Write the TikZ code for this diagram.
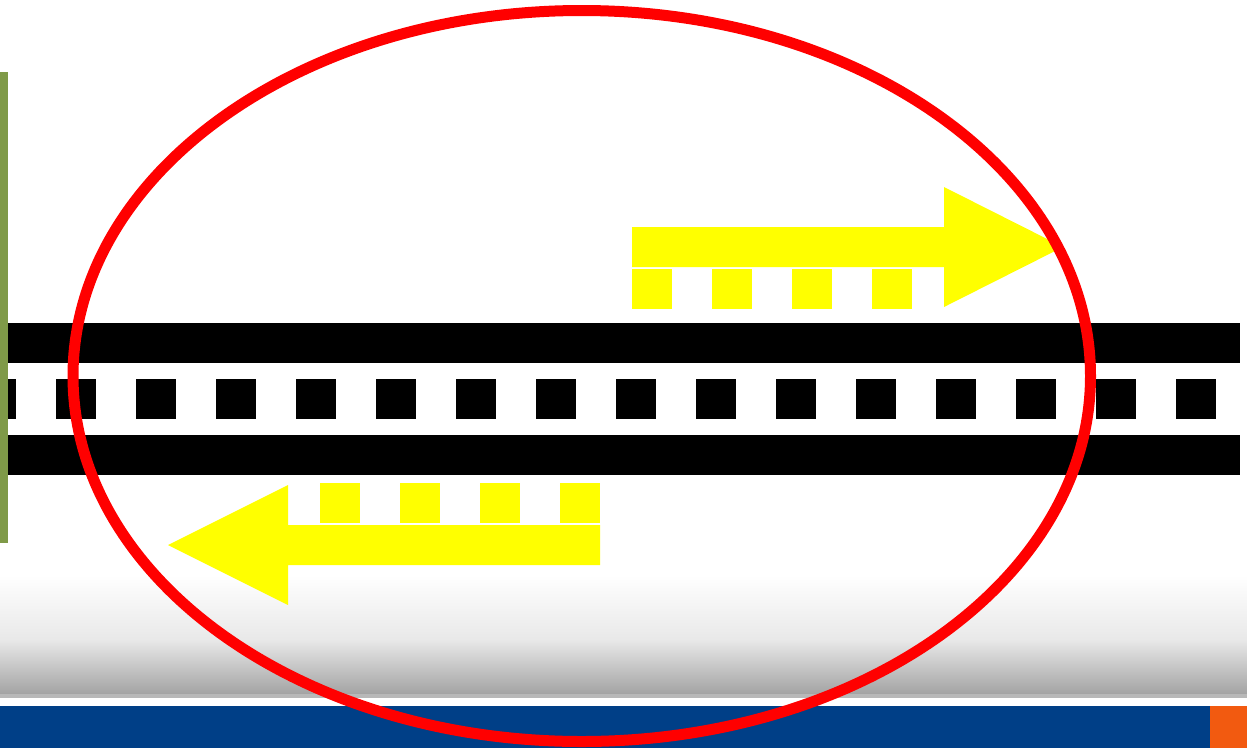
\documentclass[tikz,border=0pt]{standalone}
\definecolor{olivebar}{HTML}{7F9A48}
\definecolor{ribbonblue}{HTML}{003F87}
\definecolor{ribbonorange}{HTML}{F25A10}
\definecolor{arrowyellow}{HTML}{FFFF00}
\definecolor{ringred}{HTML}{FF0000}
\begin{document}
\begin{tikzpicture}[x=1pt,y=-1pt,
  blackbar/.style={fill=black},
  yel/.style={fill=arrowyellow},
  ring/.style={draw=ringred,line width=11pt}]
\useasboundingbox (0,0) rectangle (1247,748);
\fill[white] (0,0) rectangle (1247,748);
% bottom ribbon
\shade[top color=white,bottom color=black!9] (0,575) rectangle (1247,641);
\shade[top color=black!9,bottom color=black!37] (0,640) rectangle (1247,696);
\fill[black!28] (0,694) rectangle (1247,698);
\fill[white] (0,698) rectangle (1247,705);
\fill[ribbonblue] (0,706) rectangle (1210,748);
\fill[ribbonorange] (1210,706) rectangle (1247,748);
% green side bar
\fill[olivebar] (0,72) rectangle (8,543);
% black track
\fill[blackbar] (8,323) rectangle (1240,363);
\fill[blackbar] (8,435) rectangle (1240,475);
\fill[blackbar] (8,379) rectangle (16,419);
\foreach \i in {0,...,14}{
  \fill[blackbar] ({56+80*\i},379) rectangle ({96+80*\i},419);
}
% right yellow arrow
\fill[yel] (632,227) -- (944,227) -- (944,187) -- (1063,247) -- (944,307) -- (944,267) -- (632,267) -- cycle;
\foreach \i in {0,...,3}{
  \fill[yel] ({632+80*\i},269) rectangle ({672+80*\i},309);
}
% left yellow arrow
\fill[yel] (600,525) -- (288,525) -- (288,485) -- (168,545) -- (288,605) -- (288,565) -- (600,565) -- cycle;
\foreach \i in {0,...,3}{
  \fill[yel] ({320+80*\i},483) rectangle ({360+80*\i},523);
}
% red ellipse
\draw[ring] (581.75,376) ellipse [x radius=508.75, y radius=365.5];
\end{tikzpicture}
\end{document}
